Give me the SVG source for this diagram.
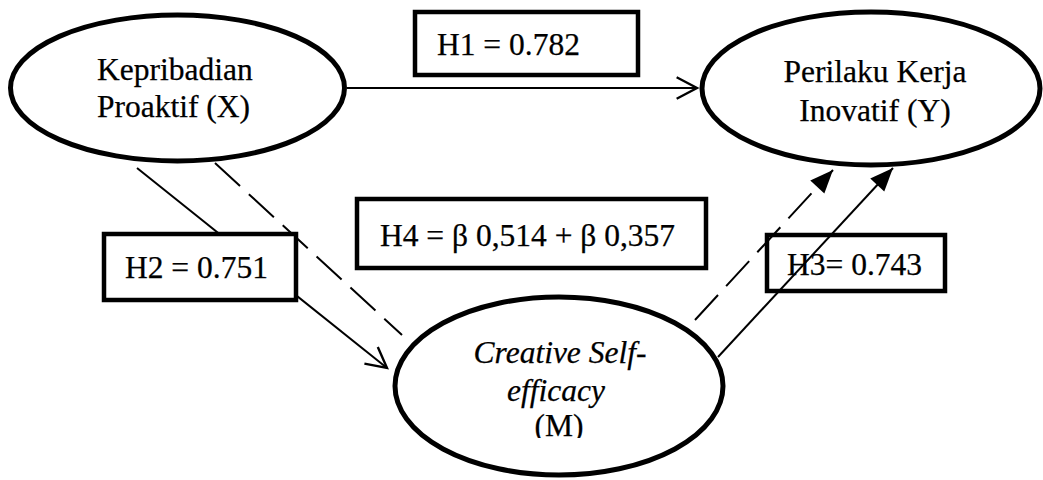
<svg xmlns="http://www.w3.org/2000/svg" width="1043" height="480" viewBox="0 0 1043 480">
  <style>
    .ell { fill: #fff; stroke: #000; stroke-width: 5; }
    .box { fill: #fff; stroke: #000; stroke-width: 4.5; }
    .box-clear { fill: none; stroke: #000; stroke-width: 4.5; }
    .t { font-family: "Liberation Serif", "Times New Roman", serif; font-size: 31.5px; fill: #000; stroke: #000; stroke-width: 0.25; }
    .it { font-style: italic; }
    .ln { fill: none; stroke: #000; stroke-width: 2; }
    .dash { stroke-dasharray: 34 12; }
  </style>
  <defs>
    <marker id="open" markerUnits="userSpaceOnUse" markerWidth="30" markerHeight="30" viewBox="-24 -14 28 28" refX="0" refY="0" orient="auto" overflow="visible">
      <path d="M-19,-10 L0,0 L-19,10" fill="none" stroke="#000" stroke-width="2.2"/>
    </marker>
    <marker id="solid" markerUnits="userSpaceOnUse" markerWidth="30" markerHeight="30" viewBox="-20 -10 22 20" refX="0" refY="0" orient="auto" overflow="visible">
      <path d="M-17,-7 L0,0 L-17,7 Z" fill="#000"/>
    </marker>
    <clipPath id="mclip">
      <rect x="380" y="300" width="360" height="138"/>
    </clipPath>
  </defs>

  <g id="connectors">
    <line class="ln" x1="347" y1="88" x2="697" y2="88" marker-end="url(#open)"/>
    <line class="ln" x1="137" y1="168" x2="387" y2="368" marker-end="url(#open)"/>
    <line class="ln dash" x1="215" y1="163" x2="402" y2="335"/>
    <line class="ln dash" x1="695" y1="320" x2="833" y2="170" marker-end="url(#solid)"/>
    <line class="ln" x1="718" y1="357" x2="893" y2="168" marker-end="url(#solid)"/>
  </g>

  <g id="node-x">
    <ellipse class="ell" cx="177.5" cy="88" rx="167" ry="73"/>
    <text class="t" x="97" y="80">Kepribadian</text>
    <text class="t" x="97" y="117">Proaktif (X)</text>
  </g>

  <g id="node-y">
    <ellipse class="ell" cx="871" cy="88.5" rx="169" ry="76.5"/>
    <text class="t" x="875" y="82" text-anchor="middle">Perilaku Kerja</text>
    <text class="t" x="875" y="121" text-anchor="middle">Inovatif (Y)</text>
  </g>

  <g id="node-m">
    <ellipse class="ell" cx="559" cy="386" rx="164" ry="89"/>
    <g clip-path="url(#mclip)">
      <text class="t it" x="560" y="363" text-anchor="middle">Creative Self-</text>
      <text class="t it" x="556" y="401" text-anchor="middle">efficacy</text>
      <text class="t" x="559" y="436" text-anchor="middle">(M)</text>
    </g>
  </g>

  <g id="label-h1">
    <rect class="box" x="415" y="12" width="223" height="63"/>
    <text class="t" x="437" y="55">H1 = 0.782</text>
  </g>

  <g id="label-h2">
    <rect class="box" x="104" y="234" width="192" height="66"/>
    <text class="t" x="125" y="278">H2 = 0.751</text>
  </g>

  <g id="label-h4">
    <rect class="box" x="357" y="199" width="349" height="69"/>
    <text class="t" x="380" y="246">H4 = β 0,514 + β 0,357</text>
  </g>

  <g id="label-h3">
    <rect class="box-clear" x="767" y="235" width="178" height="56"/>
    <text class="t" x="787" y="275">H3= 0.743</text>
  </g>
</svg>
